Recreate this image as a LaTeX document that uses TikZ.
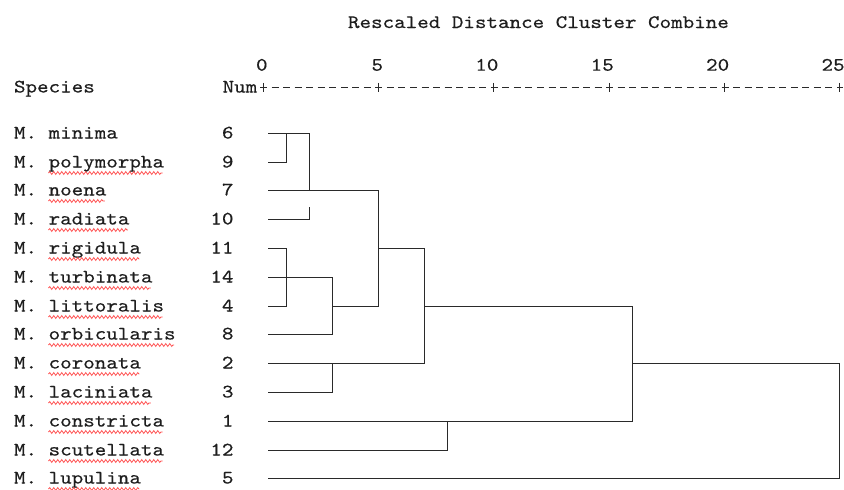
\documentclass[tikz,border=0pt]{standalone}
\usepackage{fontspec}
\setmonofont{lmmono10-regular}[Extension=.otf, FakeStretch=1.157, FakeBold=0.4]
\usetikzlibrary{decorations.pathmorphing}
\definecolor{txt}{HTML}{1E1E1E}
\definecolor{ln}{HTML}{2A2A2A}
\definecolor{wavyred}{HTML}{FF5050}
\begin{document}
\begin{tikzpicture}[x=1pt,y=-1pt,
  font=\fontsize{19pt}{19pt}\selectfont\ttfamily\frenchspacing,
  lbl/.style={inner sep=0pt, outer sep=0pt, text=txt},
  tree/.style={draw=ln, line width=1.4pt, line join=miter, line cap=butt},
  axisline/.style={draw=ln, line width=1pt},
  wave/.style={draw=wavyred, line width=0.8pt, decorate,
    decoration={snake, segment length=4pt, amplitude=1.4pt}}]
\useasboundingbox[fill=white] (0,0) rectangle (844,490);

% title and headers
\node[lbl, anchor=base west] (title) at (348,28) {Rescaled Distance Cluster Combine};
\node[lbl, anchor=base west] (hsp) at (14,92.5) {Species};
\node[lbl, anchor=base east] (hnum) at (257.2,92.5) {Num};

% axis
\foreach \k/\v in {0/0,1/5,2/10,3/15,4/20,5/25}{
  \coordinate (t\k) at ({floor(263+115.4*\k)+0.5},87.5);
  \node[lbl, anchor=base east] (tl\k) at ({263+115.4*\k+4.6},70.7) {\v};
}
\draw[axisline, dash pattern=on 7pt off 4.54pt] ([xshift=-3.5pt]t0) -- ([xshift=3.5pt]t5);
\foreach \k in {0,...,5}{
  \draw[axisline] (t\k) ++(0,-4.6) -- ++(0,9.2);
}

% rows
\foreach \i/\n/\s/\l in {0/6/minima/0, 1/9/polymorpha/10, 2/7/noena/5,
  3/10/radiata/7, 4/11/rigidula/8, 5/14/turbinata/9, 6/4/littoralis/10,
  7/8/orbicularis/11, 8/2/coronata/8, 9/3/laciniata/9, 10/1/constricta/10,
  11/12/scutellata/10, 12/5/lupulina/8}{
  \pgfmathsetmacro\yy{floor(133.3+28.8*\i)+0.5}
  \node[lbl, anchor=base west] (s\i) at (14,\yy+5) {M. \s};
  \node[lbl, anchor=base east] (n\i) at (233.5,\yy+5) {\n};
  \coordinate (L\i) at (268,\yy);
  \ifnum\l>0
    \draw[wave] (48.5,\yy+10.5) -- ({14+(3+\l)*11.54-1.5},\yy+10.5);
  \fi
}

% merge columns
\foreach \c in {2,4,6,10,14,16,32,50}{
  \coordinate (c\c) at ({floor(263+11.54*\c)+0.5},0);
}

% dendrogram
\draw[tree] (L0) -- (L0 -| c4) -- (L2 -| c4);
\draw[tree] (L1) -- (L1 -| c2) -- (L0 -| c2);
\draw[tree] (L2) -- (L2 -| c10) -- (L6 -| c10);
\draw[tree] (L3) -- (L3 -| c4) -- ++(0,-13);
\draw[tree] (L4) -- (L4 -| c2) -- (L6 -| c2) -- (L6);
\draw[tree] (L5) -- (L5 -| c6) -- (L7 -| c6) -- (L7);
\draw[tree] (L6 -| c6) -- (L6 -| c10);
\draw[tree] (L4 -| c10) -- (L4 -| c14) -- (L8 -| c14) -- (L8);
\draw[tree] (L8 -| c6) -- (L9 -| c6) -- (L9);
\draw[tree] (L6 -| c14) -- (L6 -| c32) -- (L10 -| c32) -- (L10);
\draw[tree] (L11) -- (L11 -| c16) -- (L10 -| c16);
\draw[tree] (L8 -| c32) -- (L8 -| c50) -- (L12 -| c50) -- (L12);
\end{tikzpicture}
\end{document}
